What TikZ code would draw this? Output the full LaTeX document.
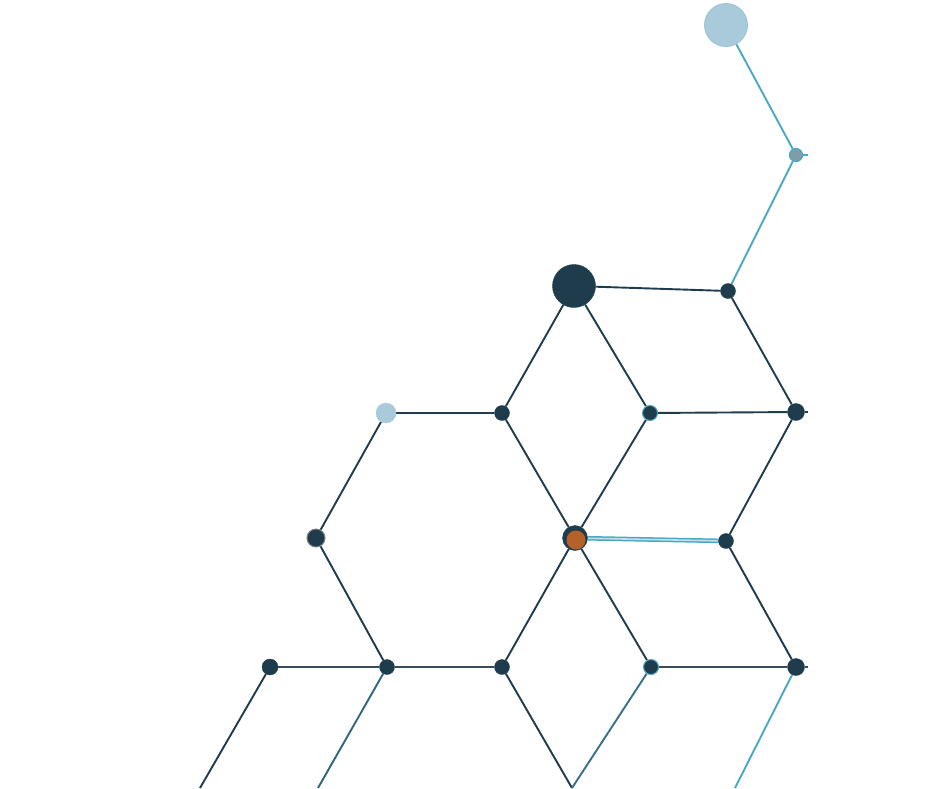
\documentclass[tikz,border=0pt]{standalone}
\usetikzlibrary{backgrounds}
\definecolor{navy}{HTML}{1F3C4D}
\definecolor{pale}{HTML}{A9CADB}
\definecolor{teal2}{HTML}{4AA8C6}
\definecolor{rust}{HTML}{B4622A}
\definecolor{greyblue}{HTML}{7F9CA9}
\begin{document}
\begin{tikzpicture}[x=1pt,y=-1pt,
  dot/.style={circle,fill=navy,draw=navy,inner sep=0pt,minimum size=#1},
  dot/.default=15pt,
  edge/.style={navy,line width=1.9pt},
  tedge/.style={teal2,line width=1.9pt},
  dedge/.style={teal2,line width=4.6pt,postaction={draw=white!65!teal2,line width=1.6pt}}]
\useasboundingbox (0,0) rectangle (940,788);
% nodes
\node[circle,fill=pale,draw=pale!80!teal2,line width=0.8pt,inner sep=0pt,minimum size=43pt] (top) at (726,25) {};
\node[circle,fill=greyblue,draw=teal2,line width=1.2pt,inner sep=0pt,minimum size=13pt] (a) at (796,155) {};
\node[dot=43pt] (big) at (574,286) {};
\node[dot] (b) at (728,291) {};
\node[circle,fill=pale,draw=pale,inner sep=0pt,minimum size=20pt] (lb) at (386,413) {};
\node[dot] (c) at (502,413) {};
\node[dot,draw=teal2,line width=1pt] (d) at (650,413) {};
\node[dot=17pt] (e) at (796,412) {};
\node[dot=18pt,draw=gray,line width=1pt] (f) at (316,538) {};
\node[dot=25pt] (g) at (575,538) {};
\node[circle,fill=rust,inner sep=0pt,minimum size=19pt] (gin) at (576,540) {};
\node[dot] (h) at (726,541) {};
\node[dot=16pt] (i) at (270,667) {};
\node[dot] (j) at (387,667) {};
\node[dot] (k) at (502,667) {};
\node[dot,draw=teal2,line width=1pt] (l) at (651,667) {};
\node[dot=17pt] (m) at (796,667) {};
% stubs and open ends
\coordinate (sa) at (808,155);
\coordinate (se) at (808,412);
\coordinate (sm) at (808,667);
\coordinate (bi) at (200,788);
\coordinate (bj) at (318,788);
\coordinate (bk) at (572,788);
\coordinate (bm) at (735,788);
% edges
\begin{pgfonlayer}{background}
\draw[tedge] (top) -- (a);
\draw[tedge] (a) -- (b);
\draw[tedge,line width=1.2pt] (a) -- (sa);
\draw[edge] (big) -- (b);
\draw[edge] (big) -- (c);
\draw[edge] (big) -- (d);
\draw[edge] (b) -- (e);
\draw[edge] (lb) -- (c);
\draw[edge] (d) -- (e);
\draw[edge] (e) -- (se);
\draw[edge] (lb) -- (f);
\draw[edge] (c) -- (g);
\draw[edge] (d) -- (g);
\draw[edge] (e) -- (h);
\draw[dedge] (g) -- (h);
\draw[edge] (f) -- (j);
\draw[edge] (g) -- (k);
\draw[edge] (g) -- (l);
\draw[edge] (h) -- (m);
\draw[edge,navy!75!gray] (i) -- (j);
\draw[edge,navy!75!gray] (j) -- (k);
\draw[edge,navy!75!gray] (l) -- (m);
\draw[edge,navy!75!gray,line width=1.4pt] (m) -- (sm);
\draw[edge] (i) -- (bi);
\draw[edge,navy!60!teal2] (j) -- (bj);
\draw[edge] (k) -- (bk);
\draw[edge,navy!50!teal2] (l) -- (bk);
\draw[tedge] (m) -- (bm);
\end{pgfonlayer}
\end{tikzpicture}
\end{document}
